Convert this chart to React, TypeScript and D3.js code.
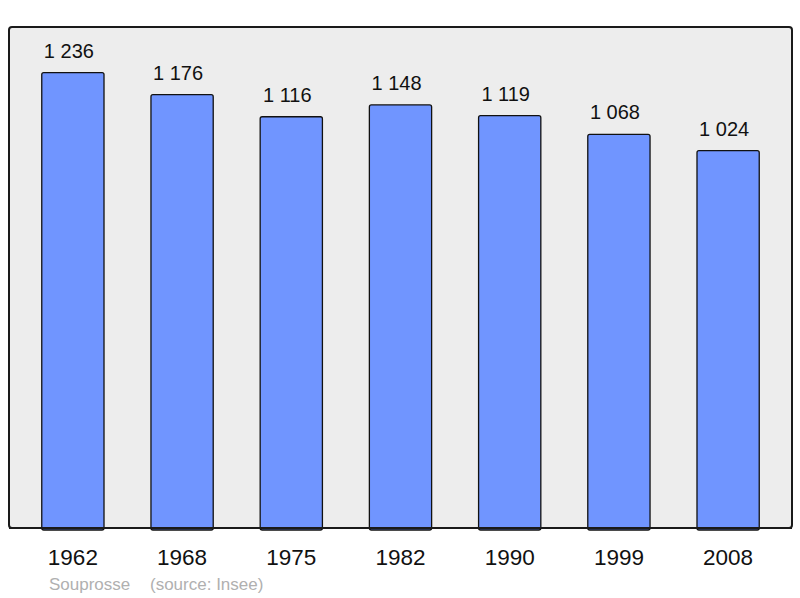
import React, { useEffect, useRef } from "react";
import * as d3 from "d3";

const years = ["1962", "1968", "1975", "1982", "1990", "1999", "2008"];
const population = [1236, 1176, 1116, 1148, 1119, 1068, 1024];
const author = "Souprosse";
const source = "(source: Insee)";

function Chart() {
  const canvas = useRef<HTMLDivElement>(null);

  const drawChart = () => {
    const width = 800;
    const height = 598;
    const box = { left: 9, top: 27, right: 792, bottom: 528 };
    const fmt = (v: number) => d3.format(",")(v).replace(",", " ");

    d3.select(canvas.current).selectAll("*").remove();
    const svg = d3
      .select(canvas.current)
      .append("svg")
      .attr("width", width)
      .attr("height", height)
      .style("display", "block")
      .style("font-family", "'Liberation Sans', Arial, sans-serif");

    svg
      .append("rect")
      .attr("x", box.left)
      .attr("y", box.top)
      .attr("width", box.right - box.left)
      .attr("height", box.bottom - box.top)
      .attr("rx", 3)
      .attr("fill", "#ededed")
      .attr("stroke", "#1a1a1a")
      .attr("stroke-width", 2);

    const x = d3
      .scaleBand()
      .domain(years)
      .range([box.left, box.right])
      .paddingInner(0.43)
      .paddingOuter(0.3);

    const y = d3
      .scaleLinear()
      .domain([0, d3.max(population)! * 1.1])
      .range([box.bottom, box.top]);

    const bars = svg
      .append("g")
      .selectAll("g")
      .data(years)
      .enter()
      .append("g");

    bars
      .append("rect")
      .attr("x", (d) => x(d)!)
      .attr("y", (d, i) => y(population[i]))
      .attr("width", x.bandwidth())
      .attr("height", (d, i) => box.bottom - y(population[i]) + 2)
      .attr("rx", 2)
      .attr("fill", "#7095ff")
      .attr("stroke", "#111")
      .attr("stroke-width", 1.3);

    bars
      .append("text")
      .attr("x", (d) => x(d)! + x.bandwidth() / 2 - 4)
      .attr("y", (d, i) => y(population[i]) - 15)
      .attr("text-anchor", "middle")
      .attr("font-size", 20)
      .attr("fill", "#111")
      .text((d, i) => fmt(population[i]));

    // redraw the frame bottom over bar ends
    svg
      .append("line")
      .attr("x1", box.left)
      .attr("x2", box.right)
      .attr("y1", box.bottom)
      .attr("y2", box.bottom)
      .attr("stroke", "#1a1a1a")
      .attr("stroke-width", 2);

    svg
      .append("g")
      .selectAll("text")
      .data(years)
      .enter()
      .append("text")
      .attr("x", (d) => x(d)! + x.bandwidth() / 2)
      .attr("y", 565)
      .attr("text-anchor", "middle")
      .attr("font-size", 22.5)
      .attr("fill", "#111")
      .text((d) => d);

    svg
      .append("text")
      .attr("x", 49)
      .attr("y", 590)
      .attr("font-size", 17)
      .attr("fill", "#b0b0b0")
      .text(author);

    svg
      .append("text")
      .attr("x", 150)
      .attr("y", 590)
      .attr("font-size", 17)
      .attr("fill", "#b0b0b0")
      .text(source);
  };

  useEffect(() => {
    drawChart();
  }, []);

  return <div ref={canvas}></div>;
}

export default function App() {
  return (
    <div style={{ position: "absolute", left: 0, top: 0 }}>
      <Chart />
    </div>
  );
}
